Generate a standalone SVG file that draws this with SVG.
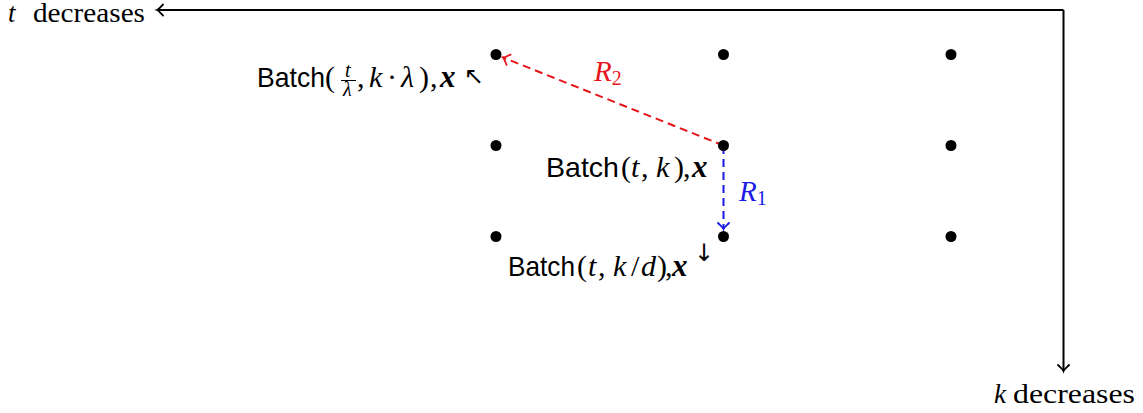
<svg xmlns="http://www.w3.org/2000/svg" width="1143" height="413" viewBox="0 0 1143 413">
<style>
.dot{fill:#000}
.sans{font-family:"Liberation Sans",Arial,sans-serif;font-size:28px;fill:#000}
.rm{font-family:"Liberation Serif","Times New Roman",serif;font-size:30px;fill:#000}
.it{font-family:"Liberation Serif","Times New Roman",serif;font-size:30px;font-style:italic;fill:#000}
.bi{font-family:"Liberation Serif","Times New Roman",serif;font-size:31px;font-style:italic;font-weight:bold;fill:#000}
.sm{font-family:"Liberation Serif","Times New Roman",serif;font-size:20px;font-style:italic;fill:#000}
.arr{font-family:"DejaVu Sans",sans-serif;font-size:24px;fill:#000}
.axis{fill:none;stroke:#000;stroke-width:2}
.red{fill:none;stroke:#e8141b;stroke-width:2;stroke-dasharray:8,5}
.blue{fill:none;stroke:#1a1ae6;stroke-width:2;stroke-dasharray:8,5}
.axtext{font-family:"Liberation Serif","Times New Roman",serif;font-size:27px;fill:#000}
</style>
<defs>
<marker id="ah-k" markerUnits="userSpaceOnUse" markerWidth="16" markerHeight="16" refX="8" refY="8" orient="auto" overflow="visible">
<path d="M2,2.5 C4,4.5 6.5,7.5 8,8 C6.5,8.5 4,11.5 2,13.5" fill="none" stroke="#000" stroke-width="1.8" stroke-linecap="round"/>
</marker>
<marker id="ah-r" markerUnits="userSpaceOnUse" markerWidth="16" markerHeight="16" refX="8" refY="8" orient="auto" overflow="visible">
<path d="M2,2.5 C4,4.5 6.5,7.5 8,8 C6.5,8.5 4,11.5 2,13.5" fill="none" stroke="#e8141b" stroke-width="1.8" stroke-linecap="round"/>
</marker>
<marker id="ah-b" markerUnits="userSpaceOnUse" markerWidth="16" markerHeight="16" refX="8" refY="8" orient="auto" overflow="visible">
<path d="M2,2.5 C4,4.5 6.5,7.5 8,8 C6.5,8.5 4,11.5 2,13.5" fill="none" stroke="#1a1ae6" stroke-width="1.8" stroke-linecap="round"/>
</marker>
</defs>

<g id="connectors">
<path class="axis" d="M1063.5,10 L157,10" marker-end="url(#ah-k)"/>
<path class="axis" d="M1063.5,10 L1063.5,371" marker-end="url(#ah-k)"/>
<path class="red" d="M723.5,145.5 L503,57.5" marker-end="url(#ah-r)"/>
<path class="blue" d="M723.5,146 L723.5,229" marker-end="url(#ah-b)"/>
<text x="594" y="81" class="it" style="fill:#e8141b;font-size:29px">R<tspan style="font-size:20px;font-style:normal" dy="4">2</tspan></text>
<text x="739" y="201" class="it" style="fill:#1a1ae6;font-size:29px">R<tspan style="font-size:20px;font-style:normal" dy="4">1</tspan></text>
</g>

<g id="axis-labels">
<text class="axtext" y="22"><tspan x="8" font-style="italic">t</tspan><tspan x="33" textLength="112" lengthAdjust="spacingAndGlyphs">decreases</tspan></text>
<text class="axtext" y="403"><tspan x="994" font-style="italic">k</tspan><tspan x="1013" textLength="122" lengthAdjust="spacingAndGlyphs">decreases</tspan></text>
</g>

<g id="n-0-0">
<circle class="dot" cx="496" cy="54.5" r="5.5"/>
<text class="sans" x="257" y="87" textLength="68" lengthAdjust="spacingAndGlyphs">Batch</text>
<text class="rm" x="325" y="87">(</text>
<text class="sm" x="345" y="77">t</text>
<line x1="341" y1="80.5" x2="356" y2="80.5" stroke="#000" stroke-width="1"/>
<text class="sm" x="343" y="96">λ</text>
<text class="rm" x="357" y="87">,</text>
<text class="it" x="369" y="87">k</text>
<text class="rm" x="387" y="87">·</text>
<text class="it" x="401" y="87">λ</text>
<text class="rm" x="419" y="87">)</text>
<text class="rm" x="430" y="87">,</text>
<text class="bi" x="440" y="87">x</text>
<text class="arr" x="464" y="84">↖</text>
</g>
<g id="n-1-0"><circle class="dot" cx="723.5" cy="54.5" r="5.5"/></g>
<g id="n-2-0"><circle class="dot" cx="951" cy="54.5" r="5.5"/></g>

<g id="n-0-1"><circle class="dot" cx="496" cy="145.5" r="5.5"/></g>
<g id="n-1-1">
<circle class="dot" cx="723.5" cy="145.5" r="5.5"/>
<text class="sans" x="546" y="177" textLength="73" lengthAdjust="spacingAndGlyphs">Batch</text>
<text class="rm" x="621" y="177">(</text>
<text class="it" x="631" y="177">t</text>
<text class="rm" x="641" y="177">,</text>
<text class="it" x="656" y="177">k</text>
<text class="rm" x="674" y="177">)</text>
<text class="rm" x="683" y="177">,</text>
<text class="bi" x="692" y="177">x</text>
</g>
<g id="n-2-1"><circle class="dot" cx="951" cy="145.5" r="5.5"/></g>

<g id="n-0-2"><circle class="dot" cx="496" cy="236.5" r="5.5"/></g>
<g id="n-1-2">
<circle class="dot" cx="723.5" cy="236.5" r="5.5"/>
<text class="sans" x="508" y="276" textLength="67" lengthAdjust="spacingAndGlyphs">Batch</text>
<text class="rm" x="577" y="276">(</text>
<text class="it" x="588" y="276">t</text>
<text class="rm" x="598" y="276">,</text>
<text class="it" x="613" y="276">k</text>
<text class="rm" x="631" y="276">/</text>
<text class="it" x="641" y="276">d</text>
<text class="rm" x="657" y="276">)</text>
<text class="rm" x="665" y="276">,</text>
<text class="bi" x="672" y="276">x</text>
<text class="arr" x="694" y="261">↓</text>
</g>
<g id="n-2-2"><circle class="dot" cx="951" cy="236.5" r="5.5"/></g>
</svg>
